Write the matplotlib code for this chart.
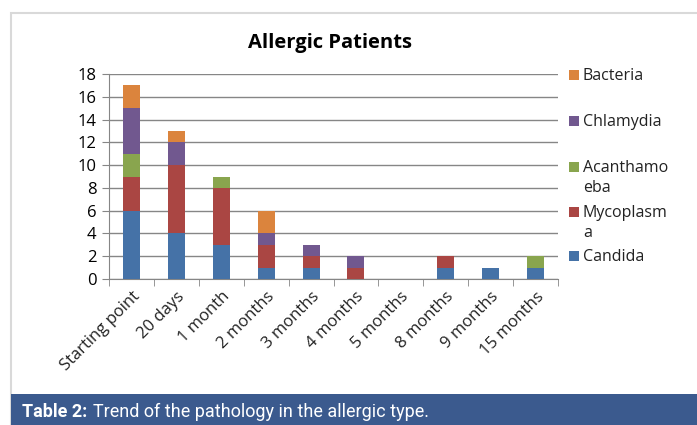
import matplotlib.pyplot as plt
from matplotlib.patches import Rectangle
import numpy as np

categories = ["Starting point", "20 days", "1 month", "2 months", "3 months",
              "4 months", "5 months", "8 months", "9 months", "15 months"]
candida = [6, 4, 3, 1, 1, 0, 0, 1, 1, 1]
mycoplasma = [3, 6, 5, 2, 1, 1, 0, 1, 0, 0]
acanthamoeba = [2, 0, 1, 0, 0, 0, 0, 0, 0, 1]
chlamydia = [4, 2, 0, 1, 1, 1, 0, 0, 0, 0]
bacteria = [2, 1, 0, 2, 0, 0, 0, 0, 0, 0]

series = [
    ("Candida", candida, "#4572A7"),
    ("Mycoplasm\na", mycoplasma, "#AA4643"),
    ("Acanthamo\neba", acanthamoeba, "#89A54E"),
    ("Chlamydia", chlamydia, "#71588F"),
    ("Bacteria", bacteria, "#DB843D"),
]

W, H = 697, 425
fig = plt.figure(figsize=(W / 100, H / 100), dpi=100)

# outer frame and caption bar
fig.patches.append(Rectangle((11 / W, 0), 1, (H - 13) / H, transform=fig.transFigure,
                             facecolor="white", edgecolor="#d9d9d9", linewidth=1.5, zorder=-2))
fig.patches.append(Rectangle((11 / W, 0), 1, 31 / H, transform=fig.transFigure,
                             facecolor="#3b5a8e", edgecolor="none", zorder=-1))

ax = fig.add_axes([109 / W, 146 / H, 449 / W, 205 / H])
ax.set_facecolor("none")

x = np.arange(len(categories))
bottom = np.zeros(len(categories))
for name, vals, col in series:
    ax.bar(x, vals, 0.38, bottom=bottom, color=col, label=name, zorder=3)
    bottom += np.array(vals)

ax.set_xlim(-0.5, len(categories) - 0.5)
ax.set_ylim(0, 18)
ax.set_yticks(range(0, 19, 2))
ax.yaxis.grid(True, color="#868686", linewidth=1, zorder=0)
ax.set_axisbelow(True)
for s in ["top", "right"]:
    ax.spines[s].set_visible(False)
for s in ["left", "bottom"]:
    ax.spines[s].set_color("#868686")

ax.set_xticks(x)
ax.set_xticklabels(categories, rotation=45, ha="right", rotation_mode="anchor",
                   fontsize=12, family="Open Sans", color="#222222")
ax.set_xticks(np.arange(-0.5, len(categories)), minor=True)
ax.tick_params(axis="x", which="major", length=0, pad=7)
ax.tick_params(axis="x", which="minor", length=5, color="#868686")
ax.tick_params(axis="y", length=5, color="#868686", labelsize=12, pad=4)
for t in ax.get_yticklabels():
    t.set_family("Open Sans")

ax.set_title("Allergic Patients", fontsize=14.5, fontweight="bold", family="Open Sans",
             x=(330 - 109) / 449, pad=19)

# legend, laid out like the Excel one on the right (y of first text line)
legend_y = [75, 121, 167, 212, 256]
for (name, vals, col), y in zip(series[::-1], legend_y):
    fig.patches.append(Rectangle((569 / W, 1 - (y + 5) / H), 10 / W, 10 / H,
                                 transform=fig.transFigure, facecolor=col,
                                 edgecolor="none"))
    fig.text(583 / W, 1 - (y - 7) / H, name, fontsize=11.5, family="Open Sans",
             color="#222222", va="top", linespacing=1.35)

fig.text(22 / W, 13 / H, "Table 2:", color="white", fontsize=13,
         fontweight="bold", family="Roboto", va="center")
fig.text(93 / W, 13 / H, "Trend of the pathology in the allergic type.",
         color="white", fontsize=13, family="Roboto", va="center")

fig.savefig("out.png", dpi=100)
